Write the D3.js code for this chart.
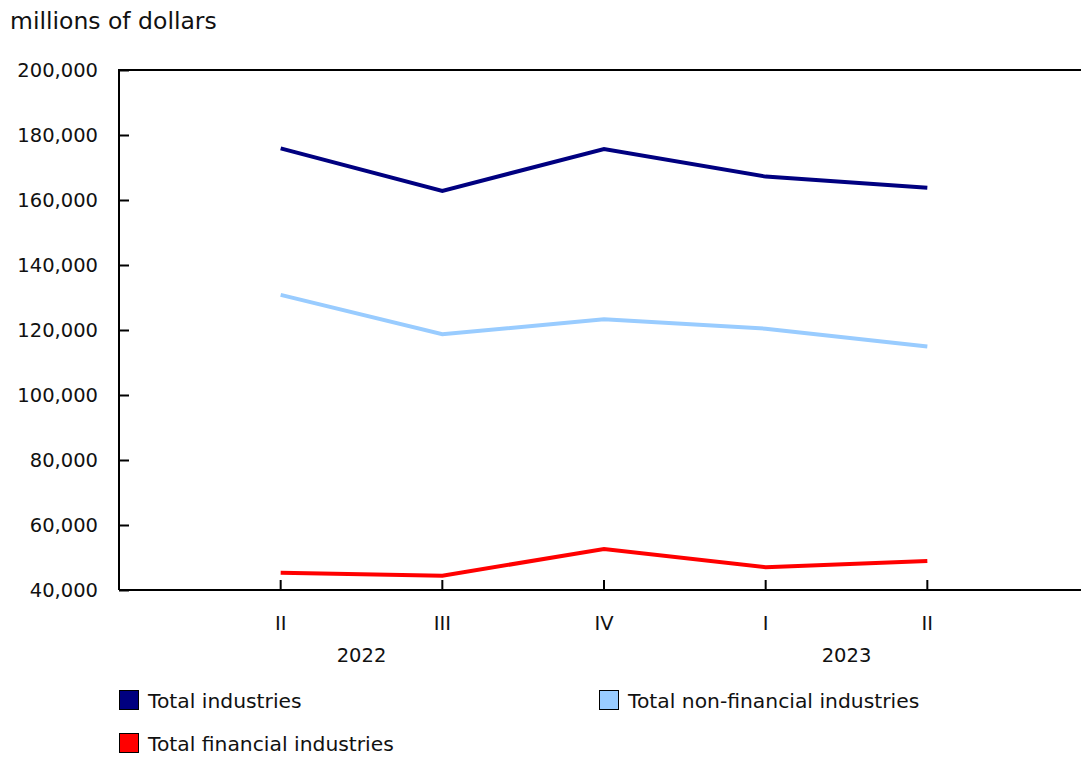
<!DOCTYPE html>
<html>
<head>
<meta charset="utf-8">
<script src="https://cdn.jsdelivr.net/npm/d3@7"></script>
<style>
  body { margin: 0; background: #fff; }
  svg text { font-family: "DejaVu Sans", Verdana, sans-serif; font-size: 19.5px; fill: #111; }
</style>
</head>
<body>
<svg id="chart" width="1081" height="759"></svg>
<script>
// data
const quarters = ['II', 'III', 'IV', 'I', 'II'];
const years = [{label: '2022', from: 0, to: 1}, {label: '2023', from: 3, to: 4}];
const totalIndustries = [175900, 162800, 175700, 167200, 163800];
const nonFinancial = [130800, 118700, 123300, 120400, 114900];
const financial = [45300, 44400, 52600, 47000, 48900];
const yTicks = [40000, 60000, 80000, 100000, 120000, 140000, 160000, 180000, 200000];

const series = [
  {name: 'Total industries', values: totalIndustries, color: '#000080'},
  {name: 'Total non-financial industries', values: nonFinancial, color: '#99ccff'},
  {name: 'Total financial industries', values: financial, color: '#ff0000'}
];

const margin = {top: 70, left: 119},
  plotW = 970,
  plotH = 520;

const svg = d3.select('#chart');

const x = d3.scaleLinear()
  .domain([-1, quarters.length])
  .range([0, plotW]);

const y = d3.scaleLinear()
  .domain([40000, 200000])
  .range([plotH, 0]);

const chart = svg.append('g')
  .attr('transform', `translate(${margin.left},${margin.top})`);

svg.append('text')
  .attr('x', 10)
  .attr('y', 29)
  .style('font-size', '23.5px')
  .text('millions of dollars');

// y axis, ticks pointing inward
const yAxis = chart.append('g')
  .call(d3.axisRight(y).tickValues(yTicks).tickSize(10).tickFormat(''));
yAxis.select('.domain').remove();
yAxis.selectAll('line').attr('stroke', '#000').attr('stroke-width', 2);

chart.selectAll('.ylab')
  .data(yTicks)
  .enter().append('text')
  .attr('class', 'ylab')
  .attr('x', -21)
  .attr('y', d => y(d) + 7)
  .attr('text-anchor', 'end')
  .text(d3.format(','));

// x ticks pointing up
chart.selectAll('.xtick')
  .data(quarters)
  .enter().append('line')
  .attr('x1', (d, i) => x(i))
  .attr('x2', (d, i) => x(i))
  .attr('y1', plotH)
  .attr('y2', plotH - 10)
  .attr('stroke', '#000')
  .attr('stroke-width', 2);

chart.selectAll('.xlab')
  .data(quarters)
  .enter().append('text')
  .attr('class', 'xlab')
  .attr('x', (d, i) => x(i))
  .attr('y', plotH + 40)
  .attr('text-anchor', 'middle')
  .text(d => d);

chart.selectAll('.year')
  .data(years)
  .enter().append('text')
  .attr('x', d => (x(d.from) + x(d.to)) / 2)
  .attr('y', plotH + 72)
  .attr('text-anchor', 'middle')
  .text(d => d.label);

// frame: left, top, bottom
chart.append('path')
  .attr('d', `M0,${plotH}V0H${plotW}M0,${plotH}H${plotW}`)
  .attr('fill', 'none')
  .attr('stroke', '#000')
  .attr('stroke-width', 2);

const line = d3.line()
  .x((d, i) => x(i))
  .y(d => y(d));

chart.selectAll('.series')
  .data(series)
  .enter().append('path')
  .attr('d', d => line(d.values))
  .attr('fill', 'none')
  .attr('stroke', d => d.color)
  .attr('stroke-width', 4);

// legend
const legendPos = [[119, 690], [599, 690], [119, 733]];
const legend = svg.selectAll('.legend')
  .data(series)
  .enter().append('g')
  .attr('transform', (d, i) => `translate(${legendPos[i][0]},${legendPos[i][1]})`);

legend.append('rect')
  .attr('x', 0.5)
  .attr('y', 0.5)
  .attr('width', 19)
  .attr('height', 19)
  .attr('fill', d => d.color)
  .attr('stroke', '#000')
  .attr('stroke-width', 1);

legend.append('text')
  .attr('x', 29)
  .attr('y', 18)
  .style('font-size', '20.3px')
  .text(d => d.name);
</script>
</body>
</html>
